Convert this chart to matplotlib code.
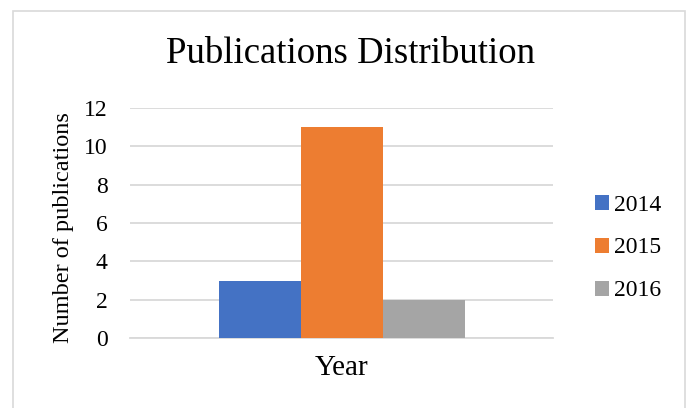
import numpy as np
import matplotlib.pyplot as plt
from matplotlib.patches import Rectangle

# values
years = ["2014", "2015", "2016"]
counts = [3, 11, 2]
colors = ["#4472C4", "#ED7D31", "#A5A5A5"]

plt.rcParams['font.family'] = ['Liberation Serif', 'DejaVu Serif']

fig = plt.figure(figsize=(6.91, 4.08), dpi=100)
W, H = 691, 408
ax = fig.add_axes([130 / W, 70 / H, 423 / W, 230 / H])

width = 82 / 423
offsets = (np.arange(len(years)) - 1) * width
for off, c, col, yr in zip(offsets, counts, colors, years):
    ax.bar(off, c, width=width, color=col, label=yr, zorder=3)

ax.set_xlim(-0.5, 0.5)
ax.set_ylim(0, 12)
ax.set_yticks(range(0, 13, 2))
ax.set_xticks([0])
ax.set_xticklabels(["Year"])
ax.tick_params(axis='both', length=0)
ax.tick_params(axis='x', pad=12, labelsize=21)
ax.tick_params(axis='y', pad=16, labelsize=17)
ax.grid(axis='y', color='#D9D9D9', linewidth=1.3, zorder=0)
for s in ['top', 'right', 'left']:
    ax.spines[s].set_visible(False)
ax.spines['bottom'].set_color('#D9D9D9')
ax.spines['bottom'].set_linewidth(1.3)

ax.set_ylabel("Number of publications", fontsize=17.5, va='center')
ax.yaxis.set_label_coords(-0.158, 0.48)
fig.text(350 / W, 1 - 54 / H, "Publications Distribution", fontsize=26.5,
         ha='center', va='center')

leg = ax.legend(loc='center left', bbox_to_anchor=(574 / W, 1 - 248 / H),
                bbox_transform=fig.transFigure, frameon=False, fontsize=17,
                handlelength=0.6, handleheight=0.6, handletextpad=0.2,
                labelspacing=0.93)

fig.patches.append(Rectangle((13 / W, -0.1), 672 / W, 1 - 11 / H + 0.1,
                             transform=fig.transFigure, fill=False,
                             edgecolor='#D9D9D9', linewidth=1.2))

fig.savefig("out.png", dpi=100)
